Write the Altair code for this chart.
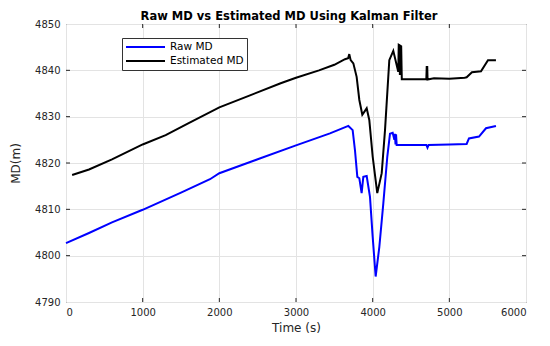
import altair as alt
import pandas as pd

# Estimated MD (black)
est_t = [80, 300, 600, 1000, 1300, 1600, 2000, 2400, 2800, 3000, 3300, 3500, 3639, 3680, 3695, 3713,
         3748, 3791, 3826, 3865, 3922, 3956, 4000, 4060, 4118, 4161, 4217, 4269, 4334, 4340, 4350,
         4355, 4362, 4372, 4380, 4700, 4705, 4712, 4716, 4800, 5000, 5200, 5226, 5295, 5413, 5504, 5608]
est_v = [4817.4, 4818.6, 4820.8, 4824.0, 4826.0, 4828.6, 4832.0, 4834.6, 4837.2, 4838.4, 4840.0, 4841.2,
         4842.4, 4842.6, 4843.5, 4842.2, 4841.5, 4838.6, 4833.6, 4830.4, 4831.8, 4829.3, 4821.4, 4813.5,
         4817.8, 4827.1, 4842.2, 4844.2, 4839.7, 4845.5, 4845.4, 4839.0, 4845.3, 4845.2, 4838.1, 4838.1,
         4840.7, 4840.7, 4838.0, 4838.3, 4838.2, 4838.4, 4838.5, 4839.6, 4839.8, 4842.2, 4842.2]

# Raw MD (blue)
raw_t = [0, 300, 600, 1000, 1500, 1878, 2000, 2500, 3000, 3443, 3683, 3739, 3769, 3800, 3826, 3856,
         3878, 3922, 3965, 4000, 4039, 4087, 4139, 4191, 4226, 4261, 4283, 4290, 4298, 4305, 4313,
         4700, 4715, 4730, 5000, 5226, 5256, 5387, 5478, 5608]
raw_v = [4802.7, 4804.9, 4807.2, 4809.9, 4813.6, 4816.5, 4817.8, 4820.8, 4823.8, 4826.4, 4828.0, 4827.1,
         4822.8, 4817.0, 4816.7, 4813.5, 4817.0, 4817.2, 4812.7, 4804.1, 4795.5, 4801.9, 4811.3, 4821.4,
         4826.3, 4826.5, 4825.0, 4826.3, 4824.0, 4826.2, 4823.9, 4823.9, 4823.3, 4823.9, 4824.0, 4824.1,
         4825.3, 4825.7, 4827.5, 4828.0]

series_names = ["Raw MD", "Estimated MD"]
series_colors = ["#0000ff", "#000000"]

x_ticks = [0, 1000, 2000, 3000, 4000, 5000, 6000]
y_ticks = [4790, 4800, 4810, 4820, 4830, 4840, 4850]

df = pd.concat([
    pd.DataFrame({"t": raw_t, "v": raw_v, "series": "Raw MD", "order": range(len(raw_t))}),
    pd.DataFrame({"t": est_t, "v": est_v, "series": "Estimated MD", "order": range(len(est_t))}),
])

W, H = 460, 278
FONT = "DejaVu Sans"
AXC = "#262626"

xscale = alt.Scale(domain=[0, 6000], nice=False)
yscale = alt.Scale(domain=[4790, 4850], nice=False)

lines = alt.Chart(df).mark_line(strokeWidth=2).encode(
    x=alt.X("t:Q", scale=xscale, title="Time (s)",
            axis=alt.Axis(values=x_ticks, format="d", grid=True, gridColor="#e3e3e3",
                          tickSize=0, labelPadding=5, domain=False, titlePadding=5)),
    y=alt.Y("v:Q", scale=yscale, title="MD(m)",
            axis=alt.Axis(values=y_ticks, format="d", grid=True, gridColor="#e3e3e3",
                          tickSize=0, labelPadding=6, domain=False, titlePadding=12)),
    color=alt.Color("series:N", scale=alt.Scale(domain=series_names, range=series_colors),
                    legend=alt.Legend(title=None, orient="none", legendX=56, legendY=14,
                                      symbolType="M-3.9,0H3.9", symbolSize=100, symbolStrokeWidth=2,
                                      symbolOffset=14.5,
                                      strokeColor="#333333", fillColor="white", padding=3,
                                      labelFont=FONT, labelFontSize=10.5, labelColor="#000000",
                                      rowPadding=2, labelOffset=18.5)),
    order="order:Q",
    detail="series:N",
)

xt = pd.DataFrame({"t": x_ticks[1:-1]})
yt = pd.DataFrame({"v": y_ticks[1:-1]})
tick_style = dict(color=AXC, strokeWidth=1)
xb = alt.Chart(xt).mark_rule(**tick_style).encode(x=alt.X("t:Q", scale=xscale), y=alt.value(H), y2=alt.value(H - 4))
xtp = alt.Chart(xt).mark_rule(**tick_style).encode(x=alt.X("t:Q", scale=xscale), y=alt.value(0), y2=alt.value(4))
yl = alt.Chart(yt).mark_rule(**tick_style).encode(y=alt.Y("v:Q", scale=yscale), x=alt.value(0), x2=alt.value(4))
yr = alt.Chart(yt).mark_rule(**tick_style).encode(y=alt.Y("v:Q", scale=yscale), x=alt.value(W), x2=alt.value(W - 4))

chart = alt.layer(lines, xb, xtp, yl, yr).properties(
    width=W, height=H,
    title=alt.TitleParams("Raw MD vs Estimated MD Using Kalman Filter", font=FONT, fontSize=11.5,
                          fontWeight="bold", color="#000000", anchor="middle", offset=2, dx=-7, dy=5),
    autosize=alt.AutoSizeParams(type="none"),
    padding={"left": 58, "top": 16, "right": 16, "bottom": 36},
).configure_view(stroke=AXC, strokeWidth=1).configure_axis(
    labelFont=FONT, labelFontSize=10, labelColor=AXC, titleFont=FONT, titleFontSize=12,
    titleColor=AXC, titleFontWeight="normal",
).configure_title(baseline="bottom")

chart.save("out.html", embed_options={"renderer": "svg", "actions": False})
